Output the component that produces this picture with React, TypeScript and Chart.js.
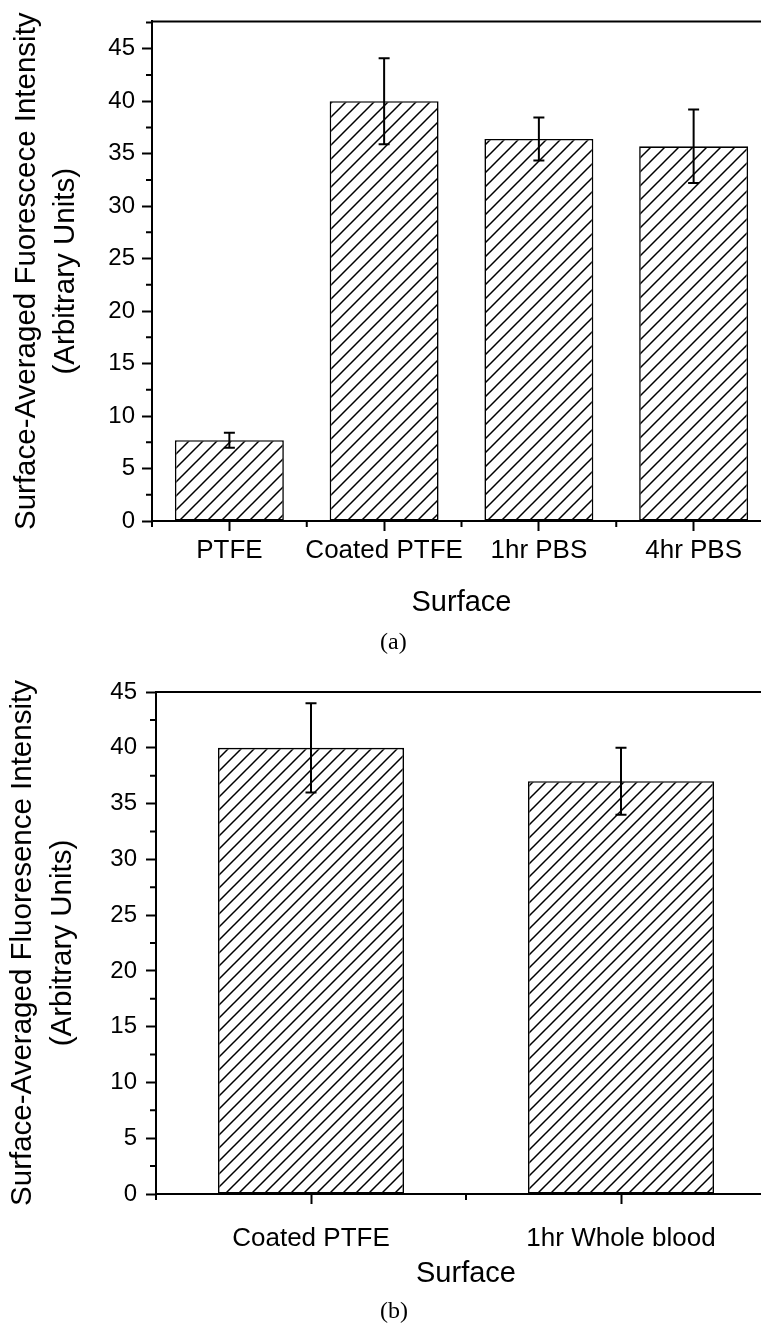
import React, { useEffect, useRef } from 'react';
import { Chart, registerables } from 'chart.js';

Chart.register(...registerables);

// ---- data ----
const categoriesA = ['PTFE', 'Coated PTFE', '1hr PBS', '4hr PBS'];
const meansA = [7.7, 40.0, 36.4, 35.7];
const errorsA = [0.72, 4.1, 2.05, 3.5];

const categoriesB = ['Coated PTFE', '1hr Whole blood'];
const meansB = [40.0, 37.0];
const errorsB = [4.0, 3.0];

const majorTicks = [0, 5, 10, 15, 20, 25, 30, 35, 40, 45];
const minorTicksA = [2.5, 7.5, 12.5, 17.5, 22.5, 27.5, 32.5, 37.5, 42.5, 47.5];
const minorTicksB = [2.5, 7.5, 12.5, 17.5, 22.5, 27.5, 32.5, 37.5, 42.5];

const yTitleA = ['Surface-Averaged Fuorescece Intensity', '(Arbitrary Units)'];
const yTitleB = ['Surface-Averaged Fluoresence Intensity', '(Arbitrary Units)'];
const xTitle = 'Surface';

const FONT = "'Liberation Sans', Arial, sans-serif";

function makeHatch(ctx: CanvasRenderingContext2D, size: number, lw: number) {
  const c = document.createElement('canvas');
  c.width = size;
  c.height = size;
  const g = c.getContext('2d')!;
  g.fillStyle = '#ffffff';
  g.fillRect(0, 0, size, size);
  g.strokeStyle = '#000000';
  g.lineWidth = lw;
  g.beginPath();
  g.moveTo(-1, size + 1);
  g.lineTo(size + 1, -1);
  g.moveTo(-1, 1);
  g.lineTo(1, -1);
  g.moveTo(size - 1, size + 1);
  g.lineTo(size + 1, size - 1);
  g.stroke();
  return ctx.createPattern(c, 'repeat')!;
}

const decorPlugin = {
  id: 'decor',
  afterDraw(chart: any, _args: any, opts: any) {
    const ctx = chart.ctx as CanvasRenderingContext2D;
    const { left, right, top, bottom } = chart.chartArea;
    const ys = chart.scales.y;
    const xs = chart.scales.x;
    ctx.save();
    ctx.strokeStyle = '#000';
    ctx.lineWidth = 2;
    ctx.beginPath();
    ctx.moveTo(left - 1, top);
    ctx.lineTo(right, top);
    ctx.lineTo(right, bottom);
    ctx.stroke();
    ctx.beginPath();
    for (const v of opts.minorY as number[]) {
      if (v > ys.max) continue;
      const py = ys.getPixelForValue(v);
      ctx.moveTo(left - 6, py);
      ctx.lineTo(left, py);
    }
    const n = xs.getLabels().length;
    for (let i = 0; i <= n; i++) {
      const px = xs.getPixelForValue(i - 0.5);
      ctx.moveTo(px, bottom);
      ctx.lineTo(px, bottom + 6);
    }
    ctx.stroke();
    const meta = chart.getDatasetMeta(0);
    ctx.lineWidth = 2;
    meta.data.forEach((bar: any, i: number) => {
      const v = opts.values[i];
      const e = opts.errors[i];
      const y1 = ys.getPixelForValue(v + e);
      const y2 = ys.getPixelForValue(v - e);
      const hw = opts.cap / 2;
      ctx.beginPath();
      ctx.moveTo(bar.x, y1);
      ctx.lineTo(bar.x, y2);
      ctx.moveTo(bar.x - hw, y1);
      ctx.lineTo(bar.x + hw, y1);
      ctx.moveTo(bar.x - hw, y2);
      ctx.lineTo(bar.x + hw, y2);
      ctx.stroke();
    });
    ctx.restore();
  },
};

type Cfg = {
  labels: string[];
  values: number[];
  errors: number[];
  minorY: number[];
  yMax: number;
  yTitle: string[];
  yWidth: number;
  xHeight: number;
  padTop: number;
  padRight: number;
  barPct: number;
  hatch: number;
  yTickPad: number;
  xTickPad: number;
  yTitlePad: number;
  xTitlePadBottom: number;
};

function buildChart(canvas: HTMLCanvasElement, c: Cfg) {
  const ctx = canvas.getContext('2d')!;
  const pattern = makeHatch(ctx, c.hatch, 1.5);
  return new Chart(canvas, {
    type: 'bar',
    data: {
      labels: c.labels,
      datasets: [
        {
          data: c.values,
          backgroundColor: pattern as any,
          borderColor: '#000',
          borderWidth: 1.6,
          borderSkipped: false,
          barPercentage: c.barPct,
          categoryPercentage: 1,
        },
      ],
    },
    options: {
      responsive: false,
      animation: false,
      layout: { padding: { top: c.padTop, right: c.padRight, left: 0, bottom: 0 } },
      plugins: {
        legend: { display: false },
        tooltip: { enabled: false },
        decor: { minorY: c.minorY, values: c.values, errors: c.errors, cap: 11 },
      } as any,
      scales: {
        x: {
          offset: true,
          grid: {
            offset: false,
            drawOnChartArea: false,
            drawTicks: true,
            tickLength: 10,
            tickWidth: 2,
            tickColor: '#000',
          },
          border: { display: true, color: '#000', width: 2 },
          ticks: {
            color: '#000',
            font: { family: FONT, size: 26 },
            padding: c.xTickPad,
            maxRotation: 0,
            autoSkip: false,
          },
          title: {
            display: true,
            text: xTitle,
            color: '#000',
            font: { family: FONT, size: 29 },
            padding: { top: 0, bottom: c.xTitlePadBottom },
          },
          afterFit: (s: any) => {
            s.height = c.xHeight;
          },
        },
        y: {
          min: 0,
          max: c.yMax,
          grid: {
            drawOnChartArea: false,
            drawTicks: true,
            tickLength: 10,
            tickWidth: 2,
            tickColor: '#000',
          },
          border: { display: true, color: '#000', width: 2 },
          ticks: {
            color: '#000',
            font: { family: FONT, size: 24 },
            padding: c.yTickPad,
          },
          afterBuildTicks: (s: any) => {
            s.ticks = majorTicks.map((v) => ({ value: v }));
          },
          title: {
            display: true,
            text: c.yTitle,
            color: '#000',
            font: { family: FONT, size: 29.5, lineHeight: 1.35 },
            padding: { top: c.yTitlePad, bottom: 0 },
          },
          afterFit: (s: any) => {
            s.width = c.yWidth;
          },
        },
      },
    },
    plugins: [decorPlugin as any],
  });
}

export default function App() {
  const refA = useRef<HTMLCanvasElement>(null);
  const refB = useRef<HTMLCanvasElement>(null);

  useEffect(() => {
    const a = buildChart(refA.current!, {
      labels: categoriesA,
      values: meansA,
      errors: errorsA,
      minorY: minorTicksA,
      yMax: 47.6,
      yTitle: yTitleA,
      yWidth: 152,
      xHeight: 109,
      padTop: 17,
      padRight: 29,
      barPct: 0.704,
      hatch: 14,
      yTickPad: 7,
      xTickPad: 4,
      yTitlePad: 6.5,
      xTitlePadBottom: 9.6,
    });
    const b = buildChart(refB.current!, {
      labels: categoriesB,
      values: meansB,
      errors: errorsB,
      minorY: minorTicksB,
      yMax: 45,
      yTitle: yTitleB,
      yWidth: 156,
      xHeight: 134,
      padTop: 27,
      padRight: 24,
      barPct: 0.6,
      hatch: 13,
      yTickPad: 9,
      xTickPad: 19,
      yTitlePad: 2.75,
      xTitlePadBottom: 36.6,
    });
    return () => {
      a.destroy();
      b.destroy();
    };
  }, []);

  const capStyle: React.CSSProperties = {
    position: 'absolute',
    left: 380,
    fontFamily: "'Liberation Serif', 'Times New Roman', serif",
    fontSize: 24,
    lineHeight: '24px',
    color: '#000',
    whiteSpace: 'nowrap',
  };

  return (
    <div
      style={{
        position: 'fixed',
        left: 0,
        top: 0,
        width: 761,
        height: 1328,
        overflow: 'hidden',
        background: '#fff',
      }}
    >
      <canvas
        ref={refA}
        width={800}
        height={630}
        style={{ position: 'absolute', left: 0, top: 0, display: 'block' }}
      />
      <div style={{ ...capStyle, top: 629 }}>(a)</div>
      <canvas
        ref={refB}
        width={800}
        height={663}
        style={{ position: 'absolute', left: 0, top: 665, display: 'block' }}
      />
      <div style={{ ...capStyle, top: 1298 }}>(b)</div>
    </div>
  );
}
